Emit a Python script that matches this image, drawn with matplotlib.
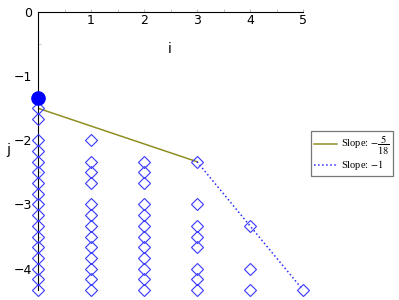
import numpy as np
import matplotlib.pyplot as plt

plt.rcParams['mathtext.fontset'] = 'stix'

# diamond points, column by column (i value, list of j values)
col_i = [0, 1, 2, 3, 4, 5]
col_j = [
    [-1.5, -5/3] + [-2 - k/6 for k in range(15)],
    [-2, -7/3, -2.5, -8/3] + [-3 - k/6 for k in range(9)],
    [-7/3, -2.5, -8/3] + [-3 - k/6 for k in range(9)],
    [-7/3, -3, -10/3, -3.5, -11/3, -4, -25/6, -13/3],
    [-10/3, -4, -13/3],
    [-13/3],
]
dot_i, dot_j = 0, -4/3
seg1_i, seg1_j = [0, 3], [-1.5, -7/3]
seg2_i, seg2_j = [3, 5], [-7/3, -13/3]
labels = [r'Slope: $-\dfrac{5}{18}$', r'Slope: $-1$']

fig = plt.figure(figsize=(3.99, 3.0), dpi=100)
ax = fig.add_axes([38/399, 1 - 290/300, 265/399, 278/300])

for i, js in zip(col_i, col_j):
    ax.plot([i] * len(js), js, 'D', ms=6.2, mfc='none', mec='#3838ff',
            mew=0.8, clip_on=False, zorder=3)
l1, = ax.plot(seg1_i, seg1_j, color='#8f8f24', lw=1.1, zorder=2)
l2, = ax.plot(seg2_i, seg2_j, color='#2a2aff', lw=1.1, ls=':', zorder=2)
ax.plot(dot_i, dot_j, 'o', color='#0000ff', ms=9.5, clip_on=False, zorder=4)

ax.set_xlim(0, 5)
ax.set_ylim(-13/3, 0)
ax.spines['bottom'].set_visible(False)
ax.spines['right'].set_visible(False)
ax.spines['top'].set_linewidth(0.8)
ax.spines['left'].set_linewidth(0.8)

ax.set_xticks([1, 2, 3, 4, 5])
ax.set_xticks(np.arange(0.5, 5.01, 0.5), minor=True)
ax.set_yticks([0, -1, -2, -3, -4])
ax.set_yticks(np.arange(-0.5, -4.4, -0.5), minor=True)
ax.xaxis.set_ticks_position('top')
ax.tick_params(axis='x', which='both', top=True, bottom=False, labeltop=True,
               labelbottom=False, direction='out', length=2, color='#bbbbbb',
               pad=-13, labelsize=9)
ax.tick_params(axis='y', which='both', direction='in', length=2,
               color='#bbbbbb', labelsize=9, pad=4)
ax.tick_params(axis='y', which='major', length=0)

ax.set_xlabel('i', fontsize=10)
ax.xaxis.set_label_coords(0.498, 0.892)
ax.set_ylabel('j', fontsize=10, rotation=0)
ax.yaxis.set_label_coords(-0.113, 0.478)

leg = ax.legend([l1, l2], labels, loc='upper left',
                bbox_to_anchor=(311/399, 1 - 131/300),
                bbox_transform=fig.transFigure, fancybox=False,
                edgecolor='#777777', framealpha=1, borderpad=0.3,
                handlelength=2.2, handletextpad=0.4, labelspacing=0.1,
                borderaxespad=0,
                prop={'family': 'Liberation Serif', 'size': 7.5})
leg.get_frame().set_linewidth(0.9)

fig.savefig('out.png', dpi=100)
